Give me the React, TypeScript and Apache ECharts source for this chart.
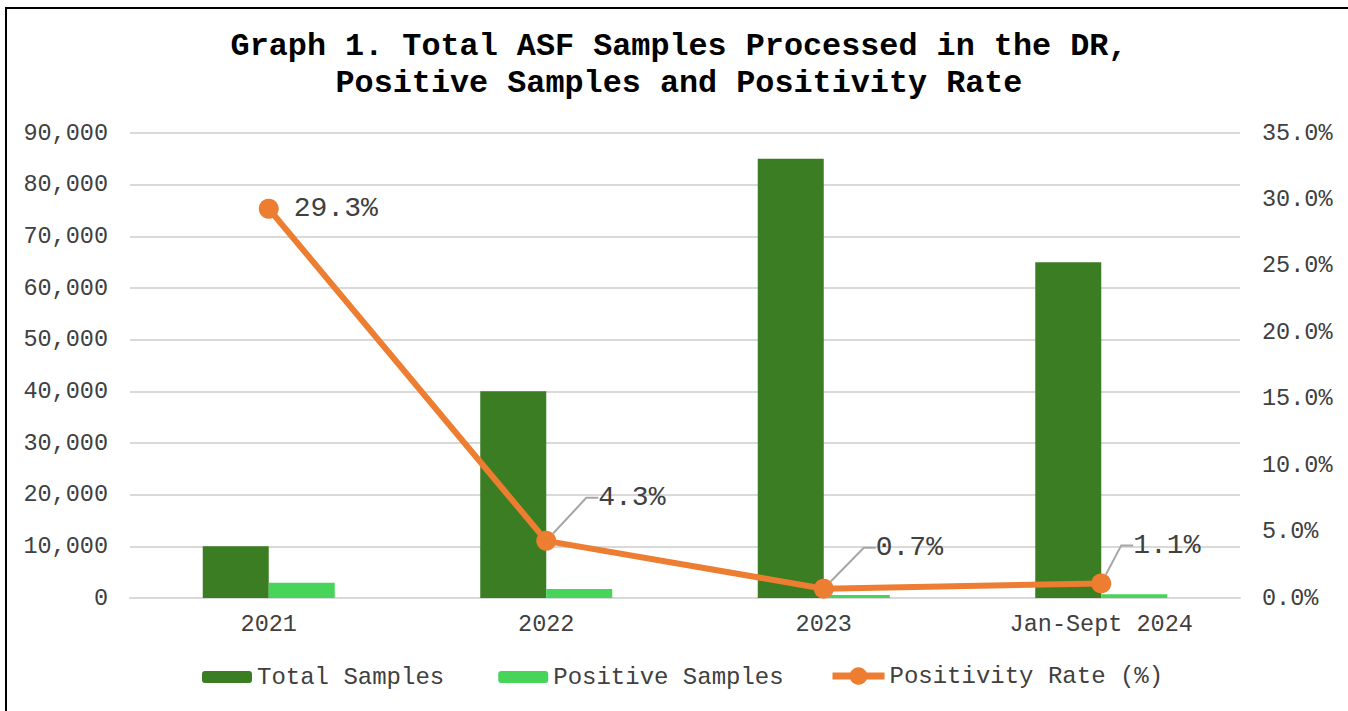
import React, { useEffect, useRef } from "react";
import * as echarts from "echarts";

const categories = ["2021", "2022", "2023", "Jan-Sept 2024"];
const totalSamples = [10000, 40000, 85000, 65000];
const positiveSamples = [2930, 1720, 595, 715];
const positivityRate = [29.3, 4.3, 0.7, 1.1];
const labelOffsets = [
  [10, 0],
  [37, -43],
  [37, -41],
  [17, -38],
];

const FONT = "'Liberation Mono', 'Courier New', monospace";
const legendText = { fontFamily: FONT, fontSize: 24, color: "#404040" };

export default function App() {
  const ref = useRef<HTMLDivElement>(null);
  useEffect(() => {
    if (!ref.current) return;
    const chart = echarts.init(ref.current, undefined, { renderer: "svg" });
    chart.setOption({
      animation: false,
      backgroundColor: "transparent",
      title: {
        text: "Graph 1. Total ASF Samples Processed in the DR,\nPositive Samples and Positivity Rate",
        left: 674,
        top: 23,
        textAlign: "center",
        textStyle: {
          fontFamily: FONT,
          fontWeight: "bold",
          fontSize: 31.8,
          lineHeight: 37,
          color: "#000",
        },
      },
      legend: [
        {
          left: 197,
          top: 660,
          itemWidth: 50,
          itemHeight: 12,
          itemGap: 54,
          textStyle: legendText,
          data: ["Total Samples", "Positive Samples"],
        },
        {
          left: 824,
          top: 659,
          itemWidth: 52,
          itemHeight: 22,
          textStyle: legendText,
          lineStyle: { width: 7 },
          data: ["Positivity Rate (%)"],
        },
      ],
      grid: { left: 130, right: 108, top: 133, bottom: 113, containLabel: false },
      xAxis: {
        type: "category",
        data: categories,
        axisTick: { show: false },
        axisLine: { lineStyle: { color: "#D9D9D9", width: 2 } },
        axisLabel: { fontFamily: FONT, fontSize: 23.5, color: "#404040", margin: 14 },
      },
      yAxis: [
        {
          type: "value",
          min: 0,
          max: 90000,
          interval: 10000,
          axisLine: { show: false },
          axisTick: { show: false },
          splitLine: { lineStyle: { color: "#D9D9D9", width: 2 } },
          axisLabel: {
            fontFamily: FONT,
            fontSize: 23.5,
            color: "#404040",
            margin: 22,
            formatter: (v: number) => v.toLocaleString("en-US"),
          },
        },
        {
          type: "value",
          min: 0,
          max: 35,
          interval: 5,
          axisLine: { show: false },
          axisTick: { show: false },
          splitLine: { show: false },
          axisLabel: {
            fontFamily: FONT,
            fontSize: 23.5,
            color: "#404040",
            margin: 22,
            formatter: (v: number) => v.toFixed(1) + "%",
          },
        },
      ],
      series: [
        {
          name: "Total Samples",
          type: "bar",
          data: totalSamples,
          barWidth: 66,
          barGap: "0%",
          itemStyle: { color: "#3B7D23" },
        },
        {
          name: "Positive Samples",
          type: "bar",
          data: positiveSamples,
          barWidth: 66,
          barGap: "0%",
          itemStyle: { color: "#47D45A" },
        },
        {
          name: "Positivity Rate (%)",
          type: "line",
          yAxisIndex: 1,
          data: positivityRate.map((v, i) => ({
            value: v,
            labelLine: { show: i !== 0 },
          })),
          symbol: "circle",
          symbolSize: 20,
          lineStyle: { color: "#ED7D31", width: 6 },
          itemStyle: { color: "#ED7D31" },
          label: {
            show: true,
            position: "right",
            distance: 5,
            fontFamily: FONT,
            fontSize: 28,
            color: "#404040",
            formatter: (p: any) => p.value.toFixed(1) + "%",
          },
          labelLine: {
            show: true,
            length2: 12,
            lineStyle: { color: "#A6A6A6", width: 2 },
          },
          labelLayout: (p: any) => {
            const o = labelOffsets[p.dataIndex] || [0, 0];
            return { dx: o[0], dy: o[1] };
          },
          z: 5,
        },
      ],
    });
    return () => chart.dispose();
  }, []);
  return (
    <div style={{ position: "fixed", left: 0, top: 0, width: 1348, height: 711, overflow: "hidden", background: "#fff" }}>
      <div
        style={{
          position: "absolute",
          left: 5,
          top: 7,
          width: 1400,
          height: 800,
          border: "2px solid #000",
        }}
      />
      <div ref={ref} style={{ position: "absolute", left: 0, top: 0, width: 1348, height: 711 }} />
    </div>
  );
}
